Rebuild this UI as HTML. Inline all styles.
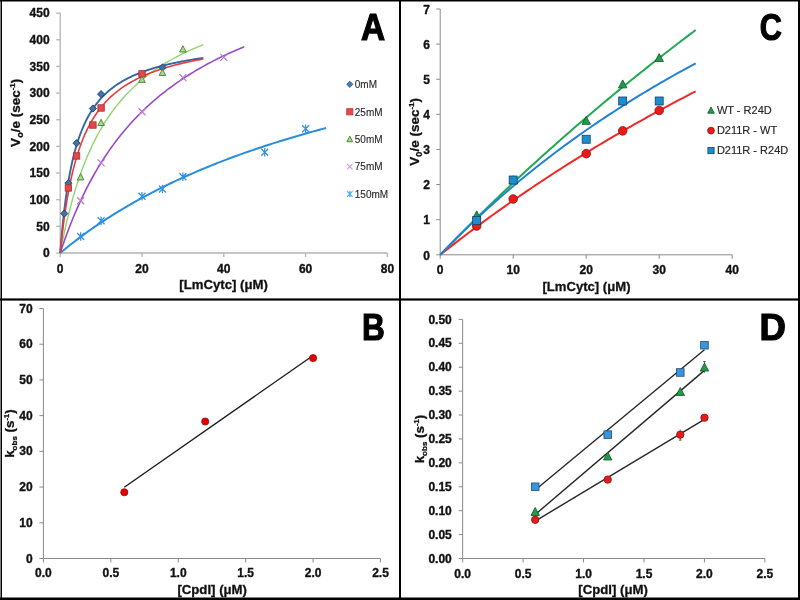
<!DOCTYPE html>
<html><head><meta charset="utf-8"><style>
html,body{margin:0;padding:0;background:#fff;}
svg{display:block;will-change:transform;}
</style></head><body>
<svg width="800" height="600" viewBox="0 0 800 600">
<rect x="0" y="0" width="800" height="600" fill="#fff"/>
<g stroke="#b4b4b4" stroke-width="1.3" fill="none">
<path d="M60.2,13.100000000000023 V253.0 H387.4"/>
<path d="M56.2,253.00 H60.2"/>
<path d="M56.2,226.34 H60.2"/>
<path d="M56.2,199.69 H60.2"/>
<path d="M56.2,173.03 H60.2"/>
<path d="M56.2,146.38 H60.2"/>
<path d="M56.2,119.72 H60.2"/>
<path d="M56.2,93.07 H60.2"/>
<path d="M56.2,66.41 H60.2"/>
<path d="M56.2,39.76 H60.2"/>
<path d="M56.2,13.10 H60.2"/>
<path d="M60.20,253.0 V257.0"/>
<path d="M142.00,253.0 V257.0"/>
<path d="M223.80,253.0 V257.0"/>
<path d="M305.60,253.0 V257.0"/>
<path d="M387.40,253.0 V257.0"/>
</g>
<g style='font-family:"Liberation Sans",sans-serif' font-weight="bold" font-size="12" fill="#111" stroke="#111" stroke-width="0.35">
<text x="49.6" y="257.30" text-anchor="end">0</text>
<text x="49.6" y="230.64" text-anchor="end">50</text>
<text x="49.6" y="203.99" text-anchor="end">100</text>
<text x="49.6" y="177.33" text-anchor="end">150</text>
<text x="49.6" y="150.68" text-anchor="end">200</text>
<text x="49.6" y="124.02" text-anchor="end">250</text>
<text x="49.6" y="97.37" text-anchor="end">300</text>
<text x="49.6" y="70.71" text-anchor="end">350</text>
<text x="49.6" y="44.06" text-anchor="end">400</text>
<text x="49.6" y="17.40" text-anchor="end">450</text>
<text x="60.20" y="272.8" text-anchor="middle">0</text>
<text x="142.00" y="272.8" text-anchor="middle">20</text>
<text x="223.80" y="272.8" text-anchor="middle">40</text>
<text x="305.60" y="272.8" text-anchor="middle">60</text>
<text x="387.40" y="272.8" text-anchor="middle">80</text>
</g>
<text x="223.6" y="288.75" text-anchor="middle" style='font-family:"Liberation Sans",sans-serif' font-weight="bold" font-size="13.2" fill="#111" stroke="#111" stroke-width="0.3">[LmCytc] (μM)</text>
<text transform="translate(19.9,112.8) rotate(-90)" text-anchor="middle" style='font-family:"Liberation Sans",sans-serif' font-weight="bold" font-size="13.5" fill="#111" stroke="#111" stroke-width="0.3">V<tspan font-size="9" dy="3">o</tspan><tspan dy="-3">/e (sec</tspan><tspan font-size="8" dy="-5">-1</tspan><tspan dy="5">)</tspan></text>
<path d="M60.20,253.00 L62.01,243.58 L63.82,234.75 L65.64,226.48 L67.45,218.70 L69.26,211.37 L71.07,204.46 L72.88,197.93 L74.70,191.74 L76.51,185.89 L78.32,180.32 L80.13,175.04 L81.94,170.01 L83.76,165.22 L85.57,160.65 L87.38,156.29 L89.19,152.11 L91.00,148.12 L92.82,144.30 L94.63,140.64 L96.44,137.12 L98.25,133.75 L100.06,130.50 L101.88,127.38 L103.69,124.38 L105.50,121.48 L107.31,118.70 L109.12,116.01 L110.94,113.41 L112.75,110.91 L114.56,108.48 L116.37,106.14 L118.18,103.88 L120.00,101.68 L121.81,99.56 L123.62,97.50 L125.43,95.51 L127.24,93.58 L129.06,91.70 L130.87,89.88 L132.68,88.11 L134.49,86.39 L136.31,84.72 L138.12,83.10 L139.93,81.52 L141.74,79.98 L143.55,78.48 L145.37,77.02 L147.18,75.60 L148.99,74.22 L150.80,72.87 L152.61,71.56 L154.43,70.27 L156.24,69.02 L158.05,67.80 L159.86,66.61 L161.67,65.44 L163.49,64.31 L165.30,63.19 L167.11,62.11 L168.92,61.05 L170.73,60.01 L172.55,58.99 L174.36,58.00 L176.17,57.03 L177.98,56.07 L179.79,55.14 L181.61,54.23 L183.42,53.34 L185.23,52.46 L187.04,51.60 L188.85,50.76 L190.67,49.94 L192.48,49.13 L194.29,48.34 L196.10,47.56 L197.91,46.80 L199.73,46.05 L201.54,45.31 L203.35,44.59" stroke="#8fd46f" stroke-width="1.4" fill="none"/>
<path d="M60.20,253.00 L62.53,246.04 L64.86,239.38 L67.19,232.99 L69.52,226.85 L71.85,220.95 L74.18,215.29 L76.51,209.83 L78.84,204.58 L81.17,199.52 L83.50,194.64 L85.83,189.94 L88.16,185.39 L90.49,181.00 L92.82,176.76 L95.15,172.65 L97.48,168.68 L99.81,164.84 L102.14,161.11 L104.47,157.50 L106.79,154.00 L109.12,150.61 L111.45,147.31 L113.78,144.11 L116.11,141.00 L118.44,137.98 L120.77,135.05 L123.10,132.19 L125.43,129.41 L127.76,126.71 L130.09,124.08 L132.42,121.51 L134.75,119.01 L137.08,116.58 L139.41,114.20 L141.74,111.89 L144.07,109.63 L146.40,107.42 L148.73,105.27 L151.06,103.17 L153.39,101.12 L155.72,99.11 L158.05,97.15 L160.38,95.24 L162.71,93.36 L165.04,91.53 L167.37,89.74 L169.70,87.99 L172.03,86.27 L174.36,84.59 L176.69,82.95 L179.02,81.34 L181.35,79.76 L183.68,78.21 L186.01,76.70 L188.34,75.22 L190.67,73.76 L193.00,72.33 L195.33,70.93 L197.66,69.56 L199.98,68.21 L202.31,66.89 L204.64,65.59 L206.97,64.32 L209.30,63.07 L211.63,61.84 L213.96,60.63 L216.29,59.45 L218.62,58.29 L220.95,57.14 L223.28,56.02 L225.61,54.91 L227.94,53.83 L230.27,52.76 L232.60,51.71 L234.93,50.68 L237.26,49.66 L239.59,48.66 L241.92,47.68 L244.25,46.71" stroke="#9a4cc6" stroke-width="1.6" fill="none"/>
<path d="M60.20,253.00 L63.57,250.22 L66.93,247.50 L70.30,244.82 L73.66,242.20 L77.03,239.63 L80.39,237.10 L83.76,234.62 L87.12,232.18 L90.49,229.79 L93.85,227.44 L97.22,225.14 L100.58,222.87 L103.95,220.64 L107.31,218.45 L110.68,216.30 L114.04,214.19 L117.41,212.11 L120.77,210.06 L124.14,208.05 L127.50,206.07 L130.87,204.12 L134.23,202.21 L137.60,200.32 L140.96,198.47 L144.33,196.64 L147.69,194.85 L151.06,193.08 L154.43,191.34 L157.79,189.62 L161.16,187.93 L164.52,186.27 L167.89,184.63 L171.25,183.01 L174.62,181.42 L177.98,179.85 L181.35,178.31 L184.71,176.78 L188.08,175.28 L191.44,173.80 L194.81,172.34 L198.17,170.90 L201.54,169.48 L204.90,168.08 L208.27,166.70 L211.63,165.34 L215.00,164.00 L218.36,162.67 L221.73,161.36 L225.09,160.07 L228.46,158.80 L231.82,157.54 L235.19,156.30 L238.56,155.08 L241.92,153.87 L245.29,152.67 L248.65,151.50 L252.02,150.33 L255.38,149.18 L258.75,148.05 L262.11,146.93 L265.48,145.82 L268.84,144.73 L272.21,143.65 L275.57,142.58 L278.94,141.52 L282.30,140.48 L285.67,139.45 L289.03,138.43 L292.40,137.43 L295.76,136.43 L299.13,135.45 L302.49,134.48 L305.86,133.52 L309.22,132.57 L312.59,131.63 L315.95,130.70 L319.32,129.79 L322.68,128.88 L326.05,127.98" stroke="#2a8edb" stroke-width="2" fill="none"/>
<path d="M60.20,253.00 L62.01,231.67 L63.82,214.15 L65.64,199.49 L67.45,187.06 L69.26,176.37 L71.07,167.09 L72.88,158.95 L74.70,151.76 L76.51,145.36 L78.32,139.62 L80.13,134.46 L81.94,129.77 L83.76,125.52 L85.57,121.62 L87.38,118.05 L89.19,114.76 L91.00,111.73 L92.82,108.91 L94.63,106.30 L96.44,103.86 L98.25,101.59 L100.06,99.46 L101.88,97.46 L103.69,95.59 L105.50,93.82 L107.31,92.16 L109.12,90.58 L110.94,89.09 L112.75,87.68 L114.56,86.34 L116.37,85.07 L118.18,83.86 L120.00,82.70 L121.81,81.60 L123.62,80.55 L125.43,79.55 L127.24,78.59 L129.06,77.67 L130.87,76.79 L132.68,75.94 L134.49,75.13 L136.31,74.35 L138.12,73.60 L139.93,72.87 L141.74,72.18 L143.55,71.51 L145.37,70.86 L147.18,70.24 L148.99,69.63 L150.80,69.05 L152.61,68.49 L154.43,67.94 L156.24,67.42 L158.05,66.91 L159.86,66.41 L161.67,65.93 L163.49,65.47 L165.30,65.02 L167.11,64.58 L168.92,64.15 L170.73,63.74 L172.55,63.34 L174.36,62.95 L176.17,62.57 L177.98,62.20 L179.79,61.84 L181.61,61.49 L183.42,61.15 L185.23,60.82 L187.04,60.49 L188.85,60.18 L190.67,59.87 L192.48,59.57 L194.29,59.27 L196.10,58.99 L197.91,58.71 L199.73,58.44 L201.54,58.17 L203.35,57.91" stroke="#3567a3" stroke-width="1.9" fill="none"/>
<path d="M60.20,253.00 L62.01,235.89 L63.82,221.21 L65.64,208.48 L67.45,197.33 L69.26,187.49 L71.07,178.74 L72.88,170.90 L74.70,163.85 L76.51,157.46 L78.32,151.66 L80.13,146.36 L81.94,141.49 L83.76,137.02 L85.57,132.89 L87.38,129.06 L89.19,125.51 L91.00,122.20 L92.82,119.11 L94.63,116.22 L96.44,113.51 L98.25,110.97 L100.06,108.57 L101.88,106.31 L103.69,104.18 L105.50,102.16 L107.31,100.24 L109.12,98.43 L110.94,96.70 L112.75,95.06 L114.56,93.50 L116.37,92.01 L118.18,90.59 L120.00,89.23 L121.81,87.93 L123.62,86.68 L125.43,85.49 L127.24,84.34 L129.06,83.24 L130.87,82.19 L132.68,81.17 L134.49,80.20 L136.31,79.25 L138.12,78.35 L139.93,77.47 L141.74,76.63 L143.55,75.81 L145.37,75.03 L147.18,74.27 L148.99,73.53 L150.80,72.82 L152.61,72.13 L154.43,71.46 L156.24,70.81 L158.05,70.18 L159.86,69.57 L161.67,68.98 L163.49,68.41 L165.30,67.85 L167.11,67.31 L168.92,66.78 L170.73,66.27 L172.55,65.77 L174.36,65.28 L176.17,64.81 L177.98,64.35 L179.79,63.90 L181.61,63.46 L183.42,63.04 L185.23,62.62 L187.04,62.22 L188.85,61.82 L190.67,61.43 L192.48,61.06 L194.29,60.69 L196.10,60.33 L197.91,59.97 L199.73,59.63 L201.54,59.29 L203.35,58.96" stroke="#e83c3c" stroke-width="1.6" fill="none"/>
<path d="M64.29,209.95 L67.89,213.55 L64.29,217.15 L60.69,213.55 Z" fill="#3f73ad" stroke="#233f60" stroke-width="0.9"/>
<path d="M68.38,179.56 L71.98,183.16 L68.38,186.76 L64.78,183.16 Z" fill="#3f73ad" stroke="#233f60" stroke-width="0.9"/>
<path d="M76.56,139.58 L80.16,143.18 L76.56,146.78 L72.96,143.18 Z" fill="#3f73ad" stroke="#233f60" stroke-width="0.9"/>
<path d="M92.92,104.93 L96.52,108.53 L92.92,112.13 L89.32,108.53 Z" fill="#3f73ad" stroke="#233f60" stroke-width="0.9"/>
<path d="M101.10,90.53 L104.70,94.13 L101.10,97.73 L97.50,94.13 Z" fill="#3f73ad" stroke="#233f60" stroke-width="0.9"/>
<path d="M142.00,70.81 L145.60,74.41 L142.00,78.01 L138.40,74.41 Z" fill="#3f73ad" stroke="#233f60" stroke-width="0.9"/>
<path d="M162.45,63.88 L166.05,67.48 L162.45,71.08 L158.85,67.48 Z" fill="#3f73ad" stroke="#233f60" stroke-width="0.9"/>
<rect x="65.18" y="184.76" width="6.40" height="6.40" fill="#e8474a" stroke="#a03030" stroke-width="0.8"/>
<rect x="73.36" y="152.77" width="6.40" height="6.40" fill="#e8474a" stroke="#a03030" stroke-width="0.8"/>
<rect x="89.72" y="121.85" width="6.40" height="6.40" fill="#e8474a" stroke="#a03030" stroke-width="0.8"/>
<rect x="97.90" y="104.79" width="6.40" height="6.40" fill="#e8474a" stroke="#a03030" stroke-width="0.8"/>
<rect x="138.80" y="70.67" width="6.40" height="6.40" fill="#e8474a" stroke="#a03030" stroke-width="0.8"/>
<path d="M80.65,173.67 L83.95,179.94 L77.35,179.94 Z" fill="#a6dc8c" stroke="#4a7a3a" stroke-width="0.9"/>
<path d="M101.10,119.29 L104.40,125.56 L97.80,125.56 Z" fill="#a6dc8c" stroke="#4a7a3a" stroke-width="0.9"/>
<path d="M142.00,76.11 L145.30,82.38 L138.70,82.38 Z" fill="#a6dc8c" stroke="#4a7a3a" stroke-width="0.9"/>
<path d="M162.45,69.18 L165.75,75.45 L159.15,75.45 Z" fill="#a6dc8c" stroke="#4a7a3a" stroke-width="0.9"/>
<path d="M182.90,45.72 L186.20,51.99 L179.60,51.99 Z" fill="#a6dc8c" stroke="#4a7a3a" stroke-width="0.9"/>
<path d="M77.15,197.26 L84.15,204.26 M84.15,197.26 L77.15,204.26" stroke="#b57ad8" stroke-width="1.2" fill="none"/>
<path d="M97.60,159.40 L104.60,166.40 M104.60,159.40 L97.60,166.40" stroke="#b57ad8" stroke-width="1.2" fill="none"/>
<path d="M138.50,108.23 L145.50,115.23 M145.50,108.23 L138.50,115.23" stroke="#b57ad8" stroke-width="1.2" fill="none"/>
<path d="M179.40,74.11 L186.40,81.11 M186.40,74.11 L179.40,81.11" stroke="#b57ad8" stroke-width="1.2" fill="none"/>
<path d="M220.30,53.85 L227.30,60.85 M227.30,53.85 L220.30,60.85" stroke="#b57ad8" stroke-width="1.2" fill="none"/>
<path d="M77.15,232.97 L84.15,239.97 M84.15,232.97 L77.15,239.97 M80.65,232.27 L80.65,240.67" stroke="#2f93dd" stroke-width="1.2" fill="none"/>
<path d="M97.60,217.25 L104.60,224.25 M104.60,217.25 L97.60,224.25 M101.10,216.55 L101.10,224.95" stroke="#2f93dd" stroke-width="1.2" fill="none"/>
<path d="M138.50,192.72 L145.50,199.72 M145.50,192.72 L138.50,199.72 M142.00,192.02 L142.00,200.42" stroke="#2f93dd" stroke-width="1.2" fill="none"/>
<path d="M158.95,185.53 L165.95,192.53 M165.95,185.53 L158.95,192.53 M162.45,184.83 L162.45,193.23" stroke="#2f93dd" stroke-width="1.2" fill="none"/>
<path d="M179.40,173.27 L186.40,180.27 M186.40,173.27 L179.40,180.27 M182.90,172.57 L182.90,180.97" stroke="#2f93dd" stroke-width="1.2" fill="none"/>
<path d="M261.20,148.74 L268.20,155.74 M268.20,148.74 L261.20,155.74 M264.70,148.04 L264.70,156.44" stroke="#2f93dd" stroke-width="1.2" fill="none"/>
<path d="M302.10,125.29 L309.10,132.29 M309.10,125.29 L302.10,132.29 M305.60,124.59 L305.60,132.99" stroke="#2f93dd" stroke-width="1.2" fill="none"/>
<path d="M349.80,81.20 L352.90,84.30 L349.80,87.40 L346.70,84.30 Z" fill="#4a7db3" stroke="#2c4f78" stroke-width="0.8"/>
<rect x="346.70" y="108.70" width="6.20" height="6.20" fill="#e8474a" stroke="#b83a3a" stroke-width="0.8"/>
<path d="M349.80,136.21 L352.70,141.72 L346.90,141.72 Z" fill="#a6dc8c" stroke="#4a8a3a" stroke-width="1"/>
<path d="M347.10,164.00 L352.50,169.40 M352.50,164.00 L347.10,169.40" stroke="#c8a0e0" stroke-width="1.1" fill="none"/>
<path d="M347.00,191.20 L352.60,196.80 M352.60,191.20 L347.00,196.80 M349.80,190.64 L349.80,197.36" stroke="#4aa8e8" stroke-width="1.1" fill="none"/>
<text x="354.8" y="88.00" style='font-family:"Liberation Sans",sans-serif' font-size="10" fill="#2a2a2a" stroke="#2a2a2a" stroke-width="0.12">0mM</text>
<text x="354.8" y="115.50" style='font-family:"Liberation Sans",sans-serif' font-size="10" fill="#2a2a2a" stroke="#2a2a2a" stroke-width="0.12">25mM</text>
<text x="354.8" y="143.10" style='font-family:"Liberation Sans",sans-serif' font-size="10" fill="#2a2a2a" stroke="#2a2a2a" stroke-width="0.12">50mM</text>
<text x="354.8" y="170.40" style='font-family:"Liberation Sans",sans-serif' font-size="10" fill="#2a2a2a" stroke="#2a2a2a" stroke-width="0.12">75mM</text>
<text x="354.8" y="197.70" style='font-family:"Liberation Sans",sans-serif' font-size="10" fill="#2a2a2a" stroke="#2a2a2a" stroke-width="0.12">150mM</text>
<text transform="translate(360.95,40.00) scale(0.891,1)" style='font-family:"Liberation Sans",sans-serif' font-weight="bold" font-size="37.5" fill="#000" stroke="#000" stroke-width="1.2">A</text>
<g stroke="#8a8a8a" stroke-width="1" fill="none">
<path d="M43.4,308.50 V558.5 H380.50"/>
<path d="M39.4,558.50 H43.4"/>
<path d="M39.4,522.79 H43.4"/>
<path d="M39.4,487.07 H43.4"/>
<path d="M39.4,451.36 H43.4"/>
<path d="M39.4,415.64 H43.4"/>
<path d="M39.4,379.93 H43.4"/>
<path d="M39.4,344.21 H43.4"/>
<path d="M39.4,308.50 H43.4"/>
<path d="M43.40,558.5 V562.5"/>
<path d="M110.82,558.5 V562.5"/>
<path d="M178.24,558.5 V562.5"/>
<path d="M245.66,558.5 V562.5"/>
<path d="M313.08,558.5 V562.5"/>
<path d="M380.50,558.5 V562.5"/>
</g>
<g style='font-family:"Liberation Sans",sans-serif' font-weight="bold" font-size="12" fill="#111" stroke="#111" stroke-width="0.35">
<text x="32.6" y="562.60" text-anchor="end">0</text>
<text x="32.6" y="526.89" text-anchor="end">10</text>
<text x="32.6" y="491.17" text-anchor="end">20</text>
<text x="32.6" y="455.46" text-anchor="end">30</text>
<text x="32.6" y="419.74" text-anchor="end">40</text>
<text x="32.6" y="384.03" text-anchor="end">50</text>
<text x="32.6" y="348.31" text-anchor="end">60</text>
<text x="32.6" y="312.60" text-anchor="end">70</text>
<text x="43.40" y="577.0" text-anchor="middle">0.0</text>
<text x="110.82" y="577.0" text-anchor="middle">0.5</text>
<text x="178.24" y="577.0" text-anchor="middle">1.0</text>
<text x="245.66" y="577.0" text-anchor="middle">1.5</text>
<text x="313.08" y="577.0" text-anchor="middle">2.0</text>
<text x="380.50" y="577.0" text-anchor="middle">2.5</text>
</g>
<text x="212.2" y="593.7" text-anchor="middle" style='font-family:"Liberation Sans",sans-serif' font-weight="bold" font-size="13.2" fill="#111" stroke="#111" stroke-width="0.3">[CpdI] (μM)</text>
<text transform="translate(14.4,433.6) rotate(-90)" text-anchor="middle" style='font-family:"Liberation Sans",sans-serif' font-weight="bold" font-size="13.4" fill="#111" stroke="#111" stroke-width="0.3">k<tspan font-size="8" dy="3">obs</tspan><tspan dy="-3"> (s</tspan><tspan font-size="7.5" dy="-5">-1</tspan><tspan dy="5">)</tspan></text>
<path d="M124.30,487.25 L313.08,355.50" stroke="#1a1a1a" stroke-width="1.3"/>
<circle cx="124.30" cy="492.25" r="3.60" fill="#e50000" stroke="#8a1010" stroke-width="0.8"/>
<circle cx="205.21" cy="421.50" r="3.60" fill="#e50000" stroke="#8a1010" stroke-width="0.8"/>
<circle cx="313.08" cy="358.11" r="3.60" fill="#e50000" stroke="#8a1010" stroke-width="0.8"/>
<text transform="translate(361.99,339.50) scale(0.843,1)" style='font-family:"Liberation Sans",sans-serif' font-weight="bold" font-size="37.5" fill="#000" stroke="#000" stroke-width="1.2">B</text>
<g stroke="#8a8a8a" stroke-width="1" fill="none">
<path d="M440.2,9.00 V254.8 H732.20"/>
<path d="M436.2,254.80 H440.2"/>
<path d="M436.2,219.69 H440.2"/>
<path d="M436.2,184.57 H440.2"/>
<path d="M436.2,149.46 H440.2"/>
<path d="M436.2,114.34 H440.2"/>
<path d="M436.2,79.23 H440.2"/>
<path d="M436.2,44.11 H440.2"/>
<path d="M436.2,9.00 H440.2"/>
<path d="M440.20,254.8 V258.8"/>
<path d="M513.20,254.8 V258.8"/>
<path d="M586.20,254.8 V258.8"/>
<path d="M659.20,254.8 V258.8"/>
<path d="M732.20,254.8 V258.8"/>
</g>
<g style='font-family:"Liberation Sans",sans-serif' font-weight="bold" font-size="12" fill="#111" stroke="#111" stroke-width="0.35">
<text x="430" y="259.50" text-anchor="end">0</text>
<text x="430" y="224.39" text-anchor="end">1</text>
<text x="430" y="189.27" text-anchor="end">2</text>
<text x="430" y="154.16" text-anchor="end">3</text>
<text x="430" y="119.04" text-anchor="end">4</text>
<text x="430" y="83.93" text-anchor="end">5</text>
<text x="430" y="48.81" text-anchor="end">6</text>
<text x="430" y="13.70" text-anchor="end">7</text>
<text x="440.20" y="274" text-anchor="middle">0</text>
<text x="513.20" y="274" text-anchor="middle">10</text>
<text x="586.20" y="274" text-anchor="middle">20</text>
<text x="659.20" y="274" text-anchor="middle">30</text>
<text x="732.20" y="274" text-anchor="middle">40</text>
</g>
<text x="586.5" y="290.5" text-anchor="middle" style='font-family:"Liberation Sans",sans-serif' font-weight="bold" font-size="13.1" fill="#111" stroke="#111" stroke-width="0.3">[LmCytc] (μM)</text>
<text transform="translate(418.9,131.8) rotate(-90)" text-anchor="middle" style='font-family:"Liberation Sans",sans-serif' font-weight="bold" font-size="13.5" fill="#111" stroke="#111" stroke-width="0.3">V<tspan font-size="9" dy="3">0</tspan><tspan dy="-3">/e (sec</tspan><tspan font-size="8" dy="-5">-1</tspan><tspan dy="5">)</tspan></text>
<path d="M440.20,254.80 L443.43,251.46 L446.67,248.14 L449.90,244.83 L453.14,241.53 L456.37,238.25 L459.61,234.99 L462.84,231.73 L466.07,228.50 L469.31,225.27 L472.54,222.06 L475.78,218.87 L479.01,215.69 L482.24,212.52 L485.48,209.37 L488.71,206.23 L491.95,203.10 L495.18,199.99 L498.42,196.89 L501.65,193.80 L504.88,190.73 L508.12,187.67 L511.35,184.62 L514.59,181.58 L517.82,178.56 L521.05,175.55 L524.29,172.56 L527.52,169.57 L530.76,166.60 L533.99,163.65 L537.23,160.70 L540.46,157.77 L543.69,154.84 L546.93,151.94 L550.16,149.04 L553.40,146.15 L556.63,143.28 L559.86,140.42 L563.10,137.57 L566.33,134.73 L569.57,131.90 L572.80,129.09 L576.04,126.29 L579.27,123.49 L582.50,120.71 L585.74,117.94 L588.97,115.19 L592.21,112.44 L595.44,109.70 L598.67,106.98 L601.91,104.26 L605.14,101.56 L608.38,98.87 L611.61,96.19 L614.85,93.52 L618.08,90.86 L621.31,88.21 L624.55,85.57 L627.78,82.94 L631.02,80.32 L634.25,77.71 L637.48,75.12 L640.72,72.53 L643.95,69.95 L647.19,67.38 L650.42,64.83 L653.66,62.28 L656.89,59.74 L660.12,57.21 L663.36,54.70 L666.59,52.19 L669.83,49.69 L673.06,47.20 L676.29,44.72 L679.53,42.25 L682.76,39.79 L686.00,37.34 L689.23,34.90 L692.47,32.47 L695.70,30.04" stroke="#1faa52" stroke-width="2" fill="none"/>
<path d="M440.20,254.80 L443.43,252.23 L446.67,249.69 L449.90,247.15 L453.14,244.63 L456.37,242.13 L459.61,239.64 L462.84,237.17 L466.07,234.71 L469.31,232.27 L472.54,229.84 L475.78,227.42 L479.01,225.02 L482.24,222.64 L485.48,220.26 L488.71,217.91 L491.95,215.56 L495.18,213.23 L498.42,210.91 L501.65,208.61 L504.88,206.32 L508.12,204.04 L511.35,201.78 L514.59,199.53 L517.82,197.29 L521.05,195.07 L524.29,192.86 L527.52,190.66 L530.76,188.47 L533.99,186.29 L537.23,184.13 L540.46,181.98 L543.69,179.84 L546.93,177.72 L550.16,175.60 L553.40,173.50 L556.63,171.41 L559.86,169.33 L563.10,167.26 L566.33,165.20 L569.57,163.16 L572.80,161.12 L576.04,159.10 L579.27,157.09 L582.50,155.09 L585.74,153.09 L588.97,151.12 L592.21,149.15 L595.44,147.19 L598.67,145.24 L601.91,143.30 L605.14,141.37 L608.38,139.46 L611.61,137.55 L614.85,135.65 L618.08,133.77 L621.31,131.89 L624.55,130.02 L627.78,128.16 L631.02,126.32 L634.25,124.48 L637.48,122.65 L640.72,120.83 L643.95,119.02 L647.19,117.22 L650.42,115.43 L653.66,113.65 L656.89,111.87 L660.12,110.11 L663.36,108.35 L666.59,106.61 L669.83,104.87 L673.06,103.14 L676.29,101.42 L679.53,99.71 L682.76,98.01 L686.00,96.31 L689.23,94.63 L692.47,92.95 L695.70,91.28" stroke="#f02828" stroke-width="2" fill="none"/>
<path d="M440.20,254.80 L443.43,251.43 L446.67,248.10 L449.90,244.79 L453.14,241.52 L456.37,238.29 L459.61,235.08 L462.84,231.90 L466.07,228.76 L469.31,225.64 L472.54,222.56 L475.78,219.51 L479.01,216.48 L482.24,213.48 L485.48,210.51 L488.71,207.57 L491.95,204.66 L495.18,201.77 L498.42,198.91 L501.65,196.07 L504.88,193.26 L508.12,190.48 L511.35,187.72 L514.59,184.99 L517.82,182.28 L521.05,179.59 L524.29,176.93 L527.52,174.30 L530.76,171.68 L533.99,169.09 L537.23,166.52 L540.46,163.98 L543.69,161.45 L546.93,158.95 L550.16,156.47 L553.40,154.01 L556.63,151.57 L559.86,149.15 L563.10,146.75 L566.33,144.38 L569.57,142.02 L572.80,139.68 L576.04,137.36 L579.27,135.06 L582.50,132.78 L585.74,130.52 L588.97,128.28 L592.21,126.05 L595.44,123.84 L598.67,121.65 L601.91,119.48 L605.14,117.33 L608.38,115.19 L611.61,113.07 L614.85,110.97 L618.08,108.88 L621.31,106.81 L624.55,104.75 L627.78,102.72 L631.02,100.69 L634.25,98.68 L637.48,96.69 L640.72,94.72 L643.95,92.76 L647.19,90.81 L650.42,88.88 L653.66,86.96 L656.89,85.06 L660.12,83.17 L663.36,81.29 L666.59,79.43 L669.83,77.59 L673.06,75.75 L676.29,73.93 L679.53,72.13 L682.76,70.33 L686.00,68.55 L689.23,66.79 L692.47,65.03 L695.70,63.29" stroke="#1f82d8" stroke-width="2" fill="none"/>
<path d="M476.70,210.85 L480.90,218.83 L472.50,218.83 Z" fill="#1e9e4a" stroke="#14502a" stroke-width="0.8"/>
<path d="M513.20,175.74 L517.40,183.72 L509.00,183.72 Z" fill="#1e9e4a" stroke="#14502a" stroke-width="0.8"/>
<path d="M586.20,116.39 L590.40,124.37 L582.00,124.37 Z" fill="#1e9e4a" stroke="#14502a" stroke-width="0.8"/>
<path d="M622.70,79.88 L626.90,87.86 L618.50,87.86 Z" fill="#1e9e4a" stroke="#14502a" stroke-width="0.8"/>
<path d="M659.20,53.54 L663.40,61.52 L655.00,61.52 Z" fill="#1e9e4a" stroke="#14502a" stroke-width="0.8"/>
<circle cx="476.70" cy="226.01" r="4.30" fill="#e81a1a" stroke="#8a1010" stroke-width="0.8"/>
<circle cx="513.20" cy="198.97" r="4.30" fill="#e81a1a" stroke="#8a1010" stroke-width="0.8"/>
<circle cx="586.20" cy="153.67" r="4.30" fill="#e81a1a" stroke="#8a1010" stroke-width="0.8"/>
<circle cx="622.70" cy="130.85" r="4.30" fill="#e81a1a" stroke="#8a1010" stroke-width="0.8"/>
<circle cx="659.20" cy="110.48" r="4.30" fill="#e81a1a" stroke="#8a1010" stroke-width="0.8"/>
<rect x="472.70" y="216.39" width="8.00" height="8.00" fill="#1a8fd0" stroke="#1a3f60" stroke-width="0.8"/>
<rect x="509.20" y="176.01" width="8.00" height="8.00" fill="#1a8fd0" stroke="#1a3f60" stroke-width="0.8"/>
<rect x="582.20" y="135.27" width="8.00" height="8.00" fill="#1a8fd0" stroke="#1a3f60" stroke-width="0.8"/>
<rect x="618.70" y="97.00" width="8.00" height="8.00" fill="#1a8fd0" stroke="#1a3f60" stroke-width="0.8"/>
<rect x="655.20" y="97.00" width="8.00" height="8.00" fill="#1a8fd0" stroke="#1a3f60" stroke-width="0.8"/>
<path d="M711.00,106.97 L714.30,113.24 L707.70,113.24 Z" fill="#1e9e4a" stroke="#14502a" stroke-width="0.8"/>
<circle cx="711.00" cy="130.60" r="3.40" fill="#e81a1a" stroke="#8a1010" stroke-width="0.8"/>
<rect x="707.90" y="147.50" width="6.20" height="6.20" fill="#1a8fd0" stroke="#1a3f60" stroke-width="0.8"/>
<text x="716.9" y="114.20" style='font-family:"Liberation Sans",sans-serif' font-size="11" fill="#262626" stroke="#262626" stroke-width="0.15">WT - R24D</text>
<text x="716.9" y="134.20" style='font-family:"Liberation Sans",sans-serif' font-size="11" fill="#262626" stroke="#262626" stroke-width="0.15">D211R - WT</text>
<text x="716.9" y="154.20" style='font-family:"Liberation Sans",sans-serif' font-size="11" fill="#262626" stroke="#262626" stroke-width="0.15">D211R - R24D</text>
<text transform="translate(759.84,39.92) scale(0.816,1)" style='font-family:"Liberation Sans",sans-serif' font-weight="bold" font-size="37.5" fill="#000" stroke="#000" stroke-width="1.2">C</text>
<g stroke="#8a8a8a" stroke-width="1" fill="none">
<path d="M462.65,319.40 V558.5 H764.90"/>
<path d="M458.65,558.50 H462.65"/>
<path d="M458.65,534.59 H462.65"/>
<path d="M458.65,510.68 H462.65"/>
<path d="M458.65,486.77 H462.65"/>
<path d="M458.65,462.86 H462.65"/>
<path d="M458.65,438.95 H462.65"/>
<path d="M458.65,415.04 H462.65"/>
<path d="M458.65,391.13 H462.65"/>
<path d="M458.65,367.22 H462.65"/>
<path d="M458.65,343.31 H462.65"/>
<path d="M458.65,319.40 H462.65"/>
<path d="M462.65,558.5 V562.5"/>
<path d="M523.10,558.5 V562.5"/>
<path d="M583.55,558.5 V562.5"/>
<path d="M644.00,558.5 V562.5"/>
<path d="M704.45,558.5 V562.5"/>
<path d="M764.90,558.5 V562.5"/>
</g>
<g style='font-family:"Liberation Sans",sans-serif' font-weight="bold" font-size="12" fill="#111" stroke="#111" stroke-width="0.35">
<text x="451.8" y="562.60" text-anchor="end">0.00</text>
<text x="451.8" y="538.69" text-anchor="end">0.05</text>
<text x="451.8" y="514.78" text-anchor="end">0.10</text>
<text x="451.8" y="490.87" text-anchor="end">0.15</text>
<text x="451.8" y="466.96" text-anchor="end">0.20</text>
<text x="451.8" y="443.05" text-anchor="end">0.25</text>
<text x="451.8" y="419.14" text-anchor="end">0.30</text>
<text x="451.8" y="395.23" text-anchor="end">0.35</text>
<text x="451.8" y="371.32" text-anchor="end">0.40</text>
<text x="451.8" y="347.41" text-anchor="end">0.45</text>
<text x="451.8" y="323.50" text-anchor="end">0.50</text>
<text x="462.65" y="577.5" text-anchor="middle">0.0</text>
<text x="523.10" y="577.5" text-anchor="middle">0.5</text>
<text x="583.55" y="577.5" text-anchor="middle">1.0</text>
<text x="644.00" y="577.5" text-anchor="middle">1.5</text>
<text x="704.45" y="577.5" text-anchor="middle">2.0</text>
<text x="764.90" y="577.5" text-anchor="middle">2.5</text>
</g>
<text x="613.1" y="593.7" text-anchor="middle" style='font-family:"Liberation Sans",sans-serif' font-weight="bold" font-size="13.2" fill="#111" stroke="#111" stroke-width="0.3">[CpdI] (μM)</text>
<text transform="translate(424.4,439.1) rotate(-90)" text-anchor="middle" style='font-family:"Liberation Sans",sans-serif' font-weight="bold" font-size="13.4" fill="#111" stroke="#111" stroke-width="0.3">k<tspan font-size="8" dy="3">obs</tspan><tspan dy="-3"> (s</tspan><tspan font-size="7.5" dy="-5">-1</tspan><tspan dy="5">)</tspan></text>
<path d="M535.19,489.93 L704.45,349.67" stroke="#262626" stroke-width="1.4"/>
<path d="M535.19,514.51 L704.45,370.35" stroke="#262626" stroke-width="1.4"/>
<path d="M535.19,521.10 L704.45,419.28" stroke="#262626" stroke-width="1.4"/>
<path d="M704.45,361.50 V372.70 M703.15,361.50 H705.75 M680.27,440.15 V429.65 M678.97,440.15 H681.57" stroke="#333" stroke-width="0.8" fill="none"/>
<rect x="531.39" y="482.97" width="7.60" height="7.60" fill="#3a95dc" stroke="#1e4f78" stroke-width="0.8"/>
<rect x="603.93" y="430.85" width="7.60" height="7.60" fill="#3a95dc" stroke="#1e4f78" stroke-width="0.8"/>
<rect x="676.47" y="368.68" width="7.60" height="7.60" fill="#3a95dc" stroke="#1e4f78" stroke-width="0.8"/>
<rect x="700.65" y="341.42" width="7.60" height="7.60" fill="#3a95dc" stroke="#1e4f78" stroke-width="0.8"/>
<path d="M535.19,507.49 L539.39,515.47 L530.99,515.47 Z" fill="#1e9e4a" stroke="#14502a" stroke-width="0.8"/>
<path d="M607.73,452.02 L611.93,460.00 L603.53,460.00 Z" fill="#1e9e4a" stroke="#14502a" stroke-width="0.8"/>
<path d="M680.27,387.47 L684.47,395.45 L676.07,395.45 Z" fill="#1e9e4a" stroke="#14502a" stroke-width="0.8"/>
<path d="M704.45,363.08 L708.65,371.06 L700.25,371.06 Z" fill="#1e9e4a" stroke="#14502a" stroke-width="0.8"/>
<circle cx="535.19" cy="519.77" r="3.70" fill="#e81a1a" stroke="#8a1010" stroke-width="0.8"/>
<circle cx="607.73" cy="479.60" r="3.70" fill="#e81a1a" stroke="#8a1010" stroke-width="0.8"/>
<circle cx="680.27" cy="434.65" r="3.70" fill="#e81a1a" stroke="#8a1010" stroke-width="0.8"/>
<circle cx="704.45" cy="417.67" r="3.70" fill="#e81a1a" stroke="#8a1010" stroke-width="0.8"/>
<text transform="translate(759.53,339.60) scale(0.976,1)" style='font-family:"Liberation Sans",sans-serif' font-weight="bold" font-size="37.5" fill="#000" stroke="#000" stroke-width="1.2">D</text>
<g fill="#000">
<rect x="0" y="0" width="800" height="1.5"/>
<rect x="0.5" y="0" width="1.5" height="600"/>
<rect x="798" y="0" width="2" height="600"/>
<rect x="0" y="597.5" width="800" height="2.5"/>
<rect x="399" y="0" width="2" height="600"/>
<rect x="0" y="298.4" width="800" height="2.2"/>
</g>
</svg>
</body></html>
